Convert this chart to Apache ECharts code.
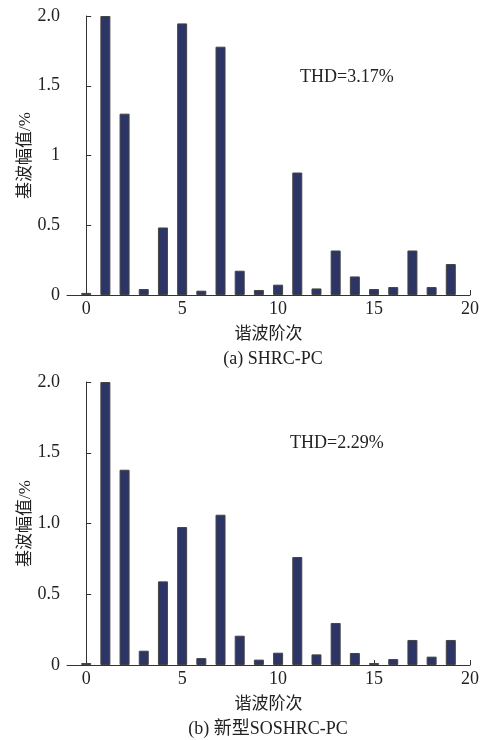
<!DOCTYPE html>
<html>
<head>
<meta charset="utf-8">
<script src="https://cdn.jsdelivr.net/npm/echarts@6/dist/echarts.min.js"></script>
<style>html,body{margin:0;padding:0;background:#fff;}#c{width:488px;height:740px;}</style>
</head>
<body>
<div id="c"></div>
<script>
const orders = [0,1,2,3,4,5,6,7,8,9,10,11,12,13,14,15,16,17,18,19];
const valuesA = [0.015,2.0,1.30,0.043,0.484,1.947,0.031,1.78,0.174,0.036,0.074,0.878,0.047,0.319,0.133,0.043,0.057,0.319,0.057,0.222];
const valuesB = [0.014,2.0,1.38,0.101,0.591,0.975,0.049,1.062,0.207,0.038,0.087,0.763,0.075,0.297,0.085,0.014,0.042,0.177,0.059,0.177];
const xTicks = [0,5,10,15,20];
const yTicksA = {0:'0',0.5:'0.5',1:'1',1.5:'1.5',2:'2.0'};
const yTicksB = {0:'0',0.5:'0.5',1:'1.0',1.5:'1.5',2:'2.0'};
const xName = '谐波阶次';
const yName = '基波幅值/%';
const captionA = '(a) SHRC-PC';
const captionB = '(b) 新型SOSHRC-PC';
const thdA = 'THD=3.17%';
const thdB = 'THD=2.29%';

const serif = '"Liberation Serif","Times New Roman",serif';
const cjk = '"Liberation Serif","Noto Sans CJK SC",serif';
const txt = '#222';
const axisCol = '#333';

function xAxis(gi){
  return {
    type:'value', gridIndex:gi, min:-1, max:20,
    axisLine:{show:true, lineStyle:{color:axisCol,width:1}},
    axisTick:{show:true, inside:true, length:5, customValues:xTicks, lineStyle:{color:axisCol}},
    axisLabel:{customValues:xTicks, margin:5, color:txt, fontFamily:serif, fontSize:18},
    splitLine:{show:false},
    name:xName, nameLocation:'middle', nameGap:31, nameMoveOverlap:false,
    nameTextStyle:{color:txt, fontFamily:cjk, fontSize:17}
  };
}
function yAxis(gi, map){
  return {
    type:'value', gridIndex:gi, min:0, max:2, interval:0.5,
    axisLine:{show:true, lineStyle:{color:axisCol,width:1}},
    axisTick:{show:true, inside:true, length:5, lineStyle:{color:axisCol}},
    axisLabel:{margin:7, color:txt, fontFamily:serif, fontSize:18, formatter:v=>map[v]},
    splitLine:{show:false},
    name:yName, nameLocation:'middle', nameGap:33, nameMoveOverlap:false,
    nameTextStyle:{color:txt, fontFamily:cjk, fontSize:17}
  };
}
function bars(gi, vals){
  return {
    type:'bar', xAxisIndex:gi, yAxisIndex:gi, barWidth:10,
    data: orders.map((o,i)=>[o, vals[i]]),
    itemStyle:{color:'#2d3566', borderColor:'#444', borderWidth:1},
    silent:true, animation:false
  };
}
const chart = echarts.init(document.getElementById('c'), null, {renderer:'canvas'});
chart.setOption({
  animation:false,
  backgroundColor:'#fff',
  grid:[
    {left:67, right:18, top:16, height:279},
    {left:67, right:18, top:382, height:283}
  ],
  xAxis:[xAxis(0), xAxis(1)],
  yAxis:[yAxis(0, yTicksA), yAxis(1, yTicksB)],
  series:[bars(0, valuesA), bars(1, valuesB)],
  graphic:[
    {type:'text', left:300, top:68, style:{text:thdA, fill:txt, font:'18px '+serif}},
    {type:'text', left:290, top:434, style:{text:thdB, fill:txt, font:'18px '+serif}},
    {type:'text', x:273, y:359, style:{text:captionA, fill:txt, font:'18px '+cjk, align:'center', verticalAlign:'middle'}},
    {type:'text', x:268, y:729, style:{text:captionB, fill:txt, font:'18px '+cjk, align:'center', verticalAlign:'middle'}}
  ]
});
</script>
</body>
</html>
